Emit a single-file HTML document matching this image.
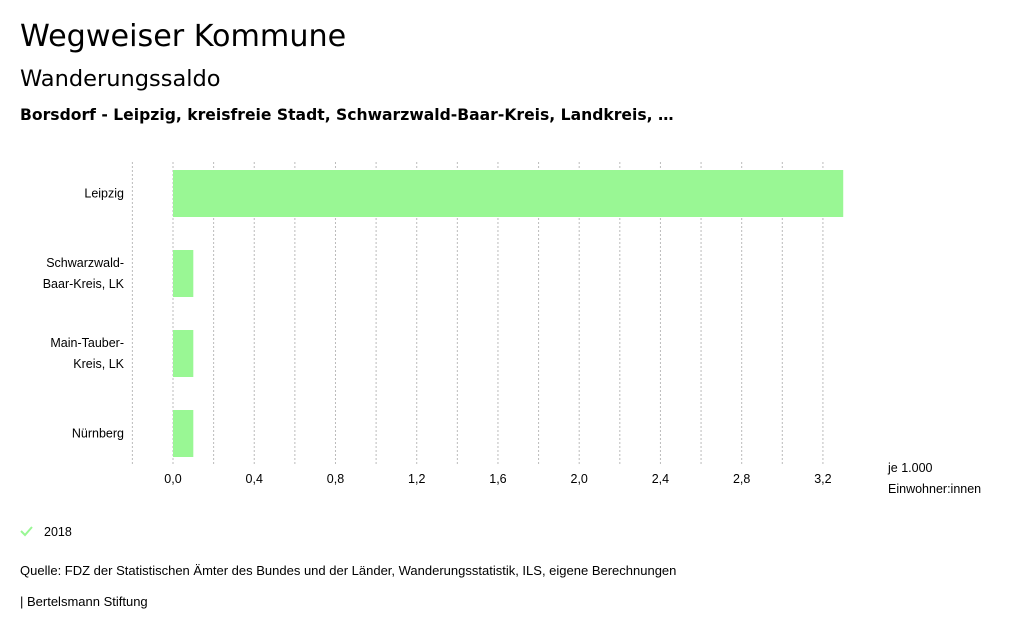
<!DOCTYPE html>
<html><head><meta charset="utf-8"><style>
body{margin:0;width:1024px;height:634px;background:#fff;font-family:"Liberation Sans","DejaVu Sans",sans-serif;color:#000;overflow:hidden;position:relative}
.t{position:absolute;white-space:nowrap}
</style></head><body>
<div class="t" style="left:20px;top:19px;font-size:30.2px;font-family:'DejaVu Sans',sans-serif">Wegweiser Kommune</div>
<div class="t" style="left:20px;top:66px;font-size:22.5px;font-family:'DejaVu Sans',sans-serif">Wanderungssaldo</div>
<div class="t" style="left:20px;top:106px;font-size:15.6px;font-weight:bold;font-family:'DejaVu Sans',sans-serif">Borsdorf - Leipzig, kreisfreie Stadt, Schwarzwald-Baar-Kreis, Landkreis, …</div>
<svg width="1024" height="634" style="position:absolute;left:0;top:0">
<g id="grid"></g><g id="bars"></g><g id="labels"></g><g id="ticks"></g>
<text x="888" y="472" font-size="12.5">je 1.000</text>
<text x="888" y="493" font-size="12.5">Einwohner:innen</text>
<path d="M21 531 l4 4 l7 -8" stroke="#99f794" stroke-width="2" fill="none"/>
<text x="44" y="536" font-size="12.5">2018</text>
<text x="20" y="575" font-size="13">Quelle: FDZ der Statistischen Ämter des Bundes und der Länder, Wanderungsstatistik, ILS, eigene Berechnungen</text>
<text x="20" y="606" font-size="13">| Bertelsmann Stiftung</text>
</svg>
<script>
const categories=[["Leipzig"],["Schwarzwald-","Baar-Kreis, LK"],["Main-Tauber-","Kreis, LK"],["Nürnberg"]];
const values=[3.3,0.1,0.1,0.1];
const tickValues=[0,0.4,0.8,1.2,1.6,2.0,2.4,2.8,3.2];
const gridValues=[-0.2,0,0.2,0.4,0.6,0.8,1.0,1.2,1.4,1.6,1.8,2.0,2.2,2.4,2.6,2.8,3.0,3.2];
const NS="http://www.w3.org/2000/svg";
const x=v=>173+v*203.1;
const bandTop=i=>170+i*80;
function mk(t,a,p){const e=document.createElementNS(NS,t);for(const k in a)e.setAttribute(k,a[k]);document.getElementById(p).appendChild(e);return e;}
gridValues.forEach(v=>{const l=mk('line',{x1:x(v),x2:x(v),y1:162,y2:464,stroke:'#bbb','stroke-dasharray':'2,2'},'grid');

});
values.forEach((v,i)=>{const r=mk('rect',{x:Math.min(x(0),x(v)),y:bandTop(i),width:Math.abs(x(v)-x(0)),height:47,fill:'#99f794'},'bars');

});
categories.forEach((c,i)=>{const cy=bandTop(i)+23.5;c.forEach((s,j)=>{const t=mk('text',{x:124,y:cy+4+(j-(c.length-1)/2)*21,'font-size':12.5,'text-anchor':'end'},'labels');t.textContent=s;

});});
tickValues.forEach(v=>{const t=mk('text',{x:x(v),y:483,'font-size':12.5,'text-anchor':'middle'},'ticks');t.textContent=v.toFixed(1).replace('.',',');

});
</script>
</body></html>
